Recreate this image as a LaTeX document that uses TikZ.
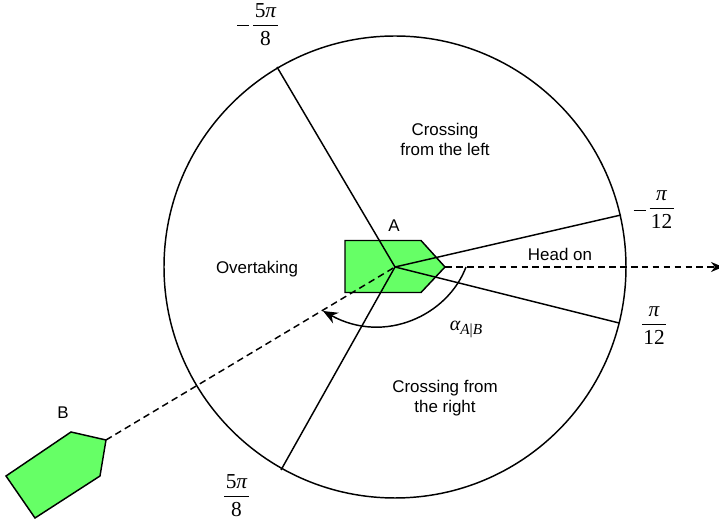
\documentclass[tikz,border=0pt]{standalone}
\usepackage{fontspec}
\setmainfont{Liberation Sans}
\newfontfamily\tms{Liberation Serif}
\usetikzlibrary{arrows.meta}
\definecolor{shipgreen}{RGB}{102,255,102}
\newcommand{\fracbox}[2]{\vcenter{\offinterlineskip\halign{\hfil##\hfil\cr
  \kern1pt\hbox{#1}\kern1pt\cr\noalign{\kern4.9pt\hrule height 1pt\kern4.4pt}
  \hbox{#2}\cr}}}
\newcommand{\minusbar}{\vcenter{\hrule width 9pt height 0.55pt}\kern3pt}
\newcommand{\piit}{{\itshape π}}
\tikzset{
  px/.style={x=0.75pt,y=-0.75pt},
  ship/.style={draw=black,fill=shipgreen,line width=1.1pt,line join=miter},
  ray/.style={draw=black,line width=1.1pt},
  sight/.style={draw=black,line width=1.1pt,dash pattern=on 5pt off 3.2pt},
  lab/.style={font=\fontsize{12.7pt}{14pt}\selectfont,inner sep=0pt,align=center},
  mathlab/.style={inner sep=0pt,font=\tms\fontsize{16pt}{18pt}\selectfont},
}
\begin{document}
\begin{tikzpicture}[px]
\useasboundingbox (0,0) rectangle (719,523);
\coordinate (C) at (395,267);
\node[draw=black,line width=1.1pt,circle,minimum size=346.5pt,inner sep=0pt] (R) at (C) {};
\path[ship] (345,240.5) -- (421,240.5) -- (445,267) -- (421,292.5) -- (345,292.5) -- cycle;
\path[ship] (6,476) -- (71,432) -- (106,440) -- (100,476) -- (35,518) -- cycle;
\coordinate (sh) at (445,267);
\coordinate (sb) at (106,440);
\coordinate (e) at (723,267);
\coordinate (r1) at (277,67);
\coordinate (r2) at (281,470);
\coordinate (r3) at (621,215);
\coordinate (r4) at (619,323);
\draw[ray] (C) -- (r1);
\draw[ray] (C) -- (r2);
\draw[ray] (C) -- (r3);
\draw[ray] (C) -- (r4);
\draw[sight] (sb) -- (C);
\draw[sight,-{Stealth[length=9pt,width=7.5pt]}] (sh) -- (e);
\coordinate (a1) at (466,267);
\coordinate (a2) at (323,311);
\draw[ray,-{Stealth[length=11pt,width=9pt]}] (a1) .. controls (448,315) and (385,345) .. (a2);
\node[lab] (t1) at (445,139) {Crossing\\[1pt]from the left};
\node[lab] (t2) at (560,254) {Head on};
\node[lab] (t3) at (257,269) {Overtaking};
\node[lab] (t4) at (445,398.5) {Crossing from\\[1pt]the right};
\node[lab] (tA) at (394,226) {A};
\node[lab] (tB) at (63,413) {B};
\node[inner sep=0pt,font=\tms\fontsize{15pt}{17pt}\selectfont] (al) at (466,329)
  {{\itshape α}\raisebox{-3pt}{\fontsize{11.5pt}{13pt}\selectfont\itshape A\upshape|\itshape B}};
\node[mathlab] (m1) at (257.5,25) {$\minusbar\fracbox{5\piit}{8}$};
\node[mathlab] (m2) at (653.5,210) {$\minusbar\fracbox{\piit}{\kern1pt 12\kern1pt}$};
\node[mathlab] (m3) at (654,326) {$\fracbox{\piit}{\kern1pt 12\kern1pt}$};
\node[mathlab] (m4) at (236.5,496) {$\fracbox{5\piit}{8}$};
\end{tikzpicture}
\end{document}
